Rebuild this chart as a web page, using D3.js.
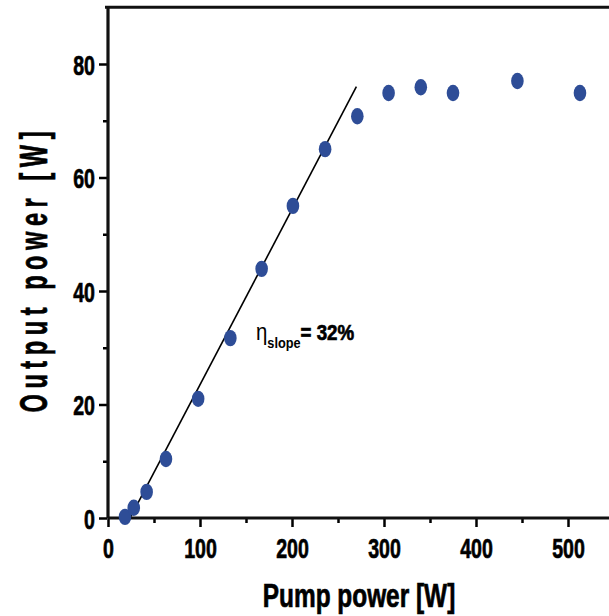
<!DOCTYPE html>
<html>
<head>
<meta charset="utf-8">
<script src="https://cdn.jsdelivr.net/npm/d3@7"></script>
<style>
  html, body { margin: 0; padding: 0; background: #fff; }
  svg text { font-family: "Liberation Sans", Arial, sans-serif; fill: #000; }
  .heavy { stroke: #000; stroke-width: 0.7px; }
</style>
</head>
<body>
<svg id="chart"></svg>
<script>
var pumpPower   = [18.5, 28, 42, 63, 98, 133, 167, 201, 236, 271, 305, 340, 375, 445, 513];
var outputPower = [0.2, 1.8, 4.6, 10.4, 21, 31.7, 43.9, 55, 65, 70.8, 74.9, 75.9, 74.9, 77, 74.9];
// Linear fit, start and end.
var fitPump   = [24, 270];
var fitOutput = [0, 76];
var xTicks = [0, 100, 200, 300, 400, 500];
var xMinor = [50, 150, 250, 350, 450];
var yTicks = [0, 20, 40, 60, 80];
var yMinor = [10, 30, 50, 70];

var W = 609, H = 616;
var svg = d3.select("#chart").attr("width", W).attr("height", H);

var x = d3.scaleLinear().domain([0, 545]).range([108, 609.4]);
var y = d3.scaleLinear().domain([0, 90]).range([518, 7.25]);

var condensed = 0.7;

// Minor ticks.
svg.append("g")
  .attr("transform", "translate(0,518)")
  .call(d3.axisBottom(x).tickValues(xMinor).tickSize(5).tickFormat(""))
  .call(function(g){ g.select(".domain").remove(); })
  .selectAll("line").attr("stroke-width", 2.5);
svg.append("g")
  .attr("transform", "translate(107,0)")
  .call(d3.axisLeft(y).tickValues(yMinor).tickSize(4).tickFormat(""))
  .call(function(g){ g.select(".domain").remove(); })
  .selectAll("line").attr("stroke-width", 2.5);

// Major ticks with labels.
var xAxis = svg.append("g")
  .attr("transform", "translate(0,518)")
  .call(d3.axisBottom(x).tickValues(xTicks).tickSize(9).tickPadding(0))
  .call(function(g){ g.select(".domain").remove(); });
xAxis.selectAll("line").attr("stroke-width", 2.5);
xAxis.selectAll("text")
  .attr("class", "heavy")
  .attr("y", 40).attr("dy", null)
  .attr("transform", "scale(" + condensed + ",1)")
  .style("font-size", "28px").style("font-weight", "bold");

var yAxis = svg.append("g")
  .attr("transform", "translate(107,0)")
  .call(d3.axisLeft(y).tickValues(yTicks).tickSize(8))
  .call(function(g){ g.select(".domain").remove(); });
yAxis.selectAll("line").attr("stroke-width", 2.5);
yAxis.selectAll("text")
  .attr("class", "heavy")
  .attr("x", -12 / condensed).attr("dy", "0.36em")
  .attr("transform", "scale(" + condensed + ",1)")
  .style("font-size", "28px").style("font-weight", "bold");

// Frame lines: left, bottom, top.
svg.append("line").attr("x1", x(0)).attr("x2", x(0)).attr("y1", y(90)).attr("y2", y(0))
  .attr("stroke", "#111").attr("stroke-width", 3.2);
svg.append("line").attr("x1", x(0)).attr("x2", W).attr("y1", y(0)).attr("y2", y(0))
  .attr("stroke", "#111").attr("stroke-width", 3.2);
svg.append("line").attr("x1", x(0) - 3).attr("x2", W).attr("y1", y(90)).attr("y2", y(90))
  .attr("stroke", "#111").attr("stroke-width", 3.2);

// Fit line.
svg.append("line")
  .attr("x1", x(fitPump[0])).attr("y1", y(fitOutput[0]))
  .attr("x2", x(fitPump[1])).attr("y2", y(fitOutput[1]))
  .attr("stroke", "#000").attr("stroke-width", 1.6);

// Data points.
svg.selectAll("ellipse.pt")
  .data(pumpPower)
  .enter()
  .append("ellipse")
  .attr("class", "pt")
  .attr("cx", function(d){ return x(d); })
  .attr("cy", function(d, i){ return y(outputPower[i]); })
  .attr("rx", 6.3)
  .attr("ry", 8.2)
  .attr("fill", "#2e4d97");

// Slope annotation.
var ann = svg.append("text")
  .attr("transform", "translate(256,340) scale(0.85,1)");
ann.append("tspan").text("\u03b7").style("font-size", "24px").style("font-weight", "normal");
ann.append("tspan").text("slope").attr("dy", 8).style("font-size", "15px").style("font-weight", "bold");
ann.append("tspan").text("= 32%").attr("class", "heavy").attr("dy", -8).style("font-size", "22px").style("font-weight", "bold");

// Axis titles.
svg.append("text")
  .attr("class", "heavy")
  .attr("transform", "translate(359,607) scale(0.74,1)")
  .attr("text-anchor", "middle")
  .style("font-size", "33px").style("font-weight", "bold")
  .text("Pump power [W]");

svg.append("text")
  .attr("class", "heavy")
  .attr("transform", "translate(47,272) rotate(-90) scale(0.62,1)")
  .attr("text-anchor", "middle")
  .attr("textLength", 281 / 0.62)
  .attr("lengthAdjust", "spacing")
  .style("font-size", "38px").style("font-weight", "bold")
  .text("Output power [W]");
</script>
</body>
</html>
